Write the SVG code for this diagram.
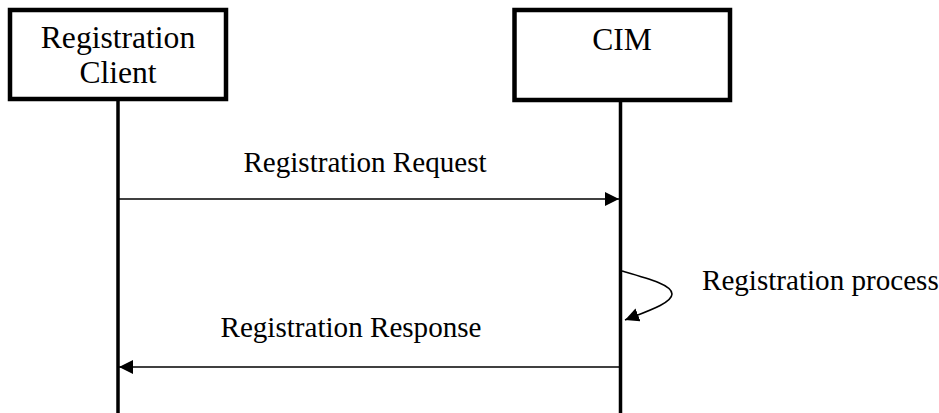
<svg xmlns="http://www.w3.org/2000/svg" width="939" height="413" viewBox="0 0 939 413">
<style>
.box{fill:#fff;stroke:#000;stroke-width:4.5}
.life{stroke:#000;stroke-width:3.5;fill:none}
.msg{stroke:#000;stroke-width:1.6;fill:none}
text{font-family:"Liberation Serif","Times New Roman",serif;fill:#000}
.bt{font-size:31.6px;text-anchor:middle}
.mt{font-size:29.1px}
</style>
<defs>
<marker id="ah" viewBox="0 0 14 14" refX="14" refY="7" markerWidth="14" markerHeight="14" markerUnits="userSpaceOnUse" orient="auto">
<path d="M0,0 L14,7 L0,14 Z" fill="#000"/>
</marker>
</defs>
<g id="lifelines">
<line class="life" x1="118" y1="100" x2="118" y2="413"/>
<line class="life" x1="620.5" y1="101" x2="620.5" y2="413"/>
</g>
<g id="client">
<rect class="box" x="10" y="10" width="216" height="89"/>
<text class="bt" x="118" y="48">Registration</text>
<text class="bt" x="118" y="83">Client</text>
</g>
<g id="cim">
<rect class="box" x="514.5" y="10" width="215.5" height="90"/>
<text class="bt" x="622" y="50">CIM</text>
</g>
<g id="connectors">
<line class="msg" x1="119" y1="199" x2="619" y2="199" marker-end="url(#ah)"/>
<line class="msg" x1="619" y1="367" x2="119" y2="367" marker-end="url(#ah)"/>
<path class="msg" d="M622,271 C650,279 672,285 672,294 C672,303 648,311 625,320" marker-end="url(#ah)"/>
</g>
<g id="labels">
<text class="mt" x="365" y="171.5" text-anchor="middle">Registration Request</text>
<text class="mt" x="351" y="336.5" text-anchor="middle">Registration Response</text>
<text class="mt" x="702" y="289.5">Registration process</text>
</g>
</svg>
